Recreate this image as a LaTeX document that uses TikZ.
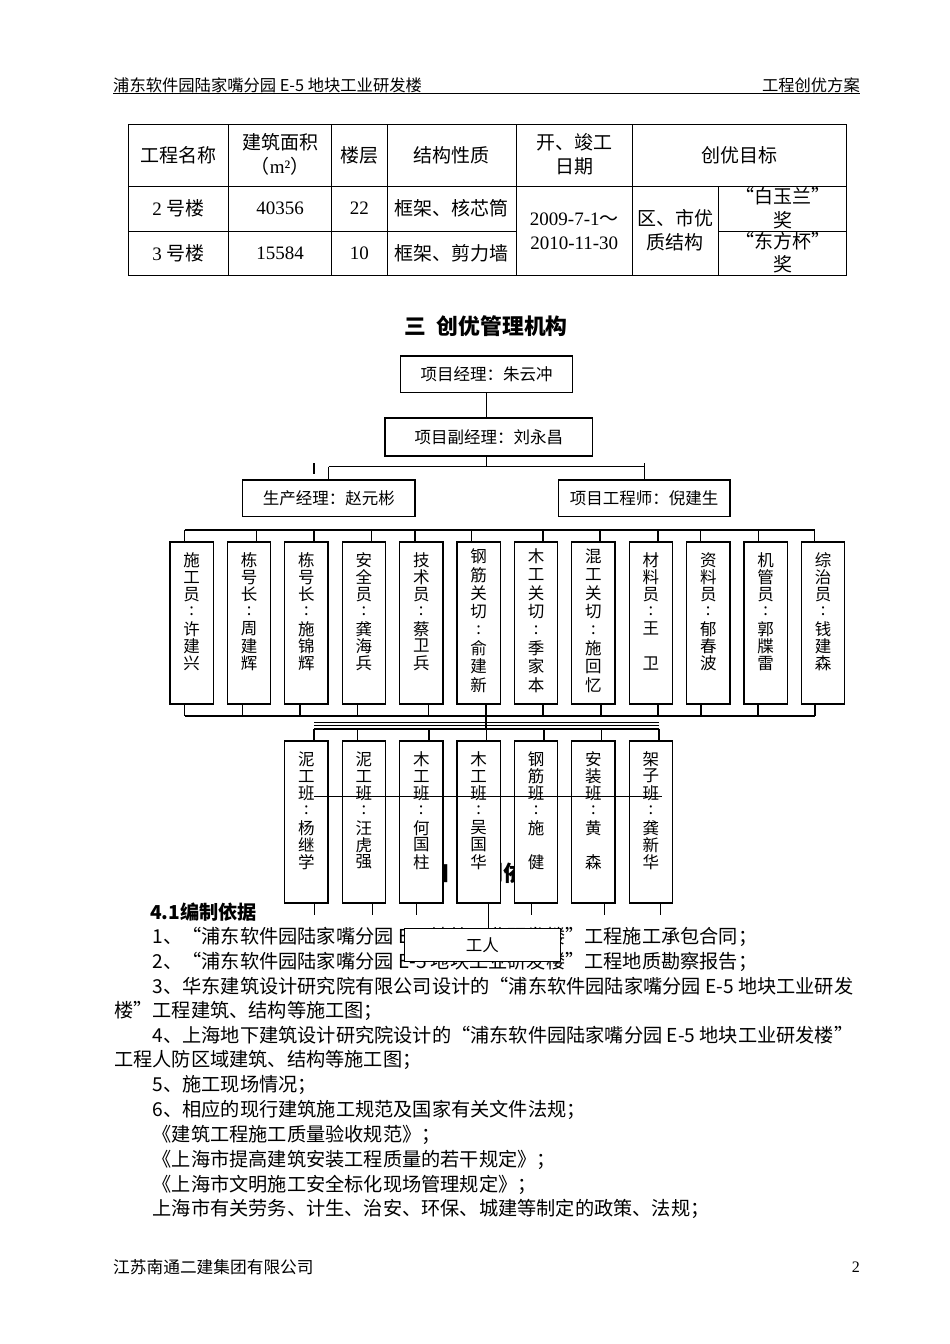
\documentclass[tikz,border=0pt]{standalone}
\usepackage{fontspec}
\setmainfont{Noto Sans CJK SC}
\newfontfamily\tm{Liberation Serif}
\tikzset{
  ln/.style={line width=1.2pt},
  tbl/.style={line width=1pt},
  obox/.style={draw, line width=1.3pt, fill=white, inner sep=0pt, font=\fontsize{16.5}{17}\selectfont},
  vbox/.style={draw, line width=1.3pt, fill=white, minimum width=43.3pt, minimum height=162pt, inner sep=0pt},
  vch/.style={inner sep=0pt, font=\fontsize{16.5}{17}\selectfont},
  tb/.style={inner sep=0pt, font=\fontsize{19}{20}\selectfont},
  body/.style={anchor=west, inner sep=0pt, font=\fontsize{19.2}{20}\selectfont},
  hdr/.style={inner sep=0pt, font=\fontsize{16.3}{17}\selectfont},
  ttl/.style={inner sep=0pt, font=\fontsize{21.8}{23}\selectfont\bfseries},
}
\newcommand\vcol[5]{\foreach \c [count=\k] in {#5} {\node[vch] (#1c\k) at (#2,{#3+(\k-1)*#4}) {\c};}}
\begin{document}
\begin{tikzpicture}[x=1pt,y=-1pt]
\fill[white] (0,0) rectangle (950,1344);
\useasboundingbox (0,0) rectangle (950,1344);

% header
\node[hdr, anchor=west] (hl) at (113,85) {浦东软件园陆家嘴分园 E-5 地块工业研发楼};
\node[hdr, anchor=east] (hr) at (860,85) {工程创优方案};
\draw[line width=1.8pt] (113,93.5) -- (860,93.5);

% table
\draw[tbl] (128.5,124) rectangle (846.5,275);
\draw[tbl] (128.5,186) -- (846.5,186);
\draw[tbl] (128.5,231) -- (516.5,231);
\draw[tbl] (718.5,231) -- (846.5,231);
\foreach \x in {228.5,331.5,387,516.5,632} \draw[tbl] (\x,124) -- (\x,275);
\draw[tbl] (718.5,186) -- (718.5,275);

\node[tb] (h1) at (178.5,155) {工程名称};
\node[tb] (h2a) at (280,142) {建筑面积};
\node[tb] (h2b) at (280,166) {（{\tm m²}）};
\node[tb] (h3) at (359.25,155) {楼层};
\node[tb] (h4) at (451.75,155) {结构性质};
\node[tb] (h5a) at (574.25,142) {开、竣工};
\node[tb] (h5b) at (574.25,166) {日期};
\node[tb] (h6) at (739.25,155) {创优目标};

\node[tb] (r1a) at (178.5,208) {{\tm 2}\hspace{5pt}号楼};
\node[tb] (r1b) at (280,208) {\tm 40356};
\node[tb] (r1c) at (359.25,208) {\tm 22};
\node[tb] (r1d) at (451.75,208) {框架、核芯筒};
\node[tb] (r2a) at (178.5,253) {{\tm 3}\hspace{5pt}号楼};
\node[tb] (r2b) at (280,253) {\tm 15584};
\node[tb] (r2c) at (359.25,253) {\tm 10};
\node[tb] (r2d) at (451.75,253) {框架、剪力墙};
\node[tb] (d1) at (574.25,219) {{\tm 2009-7-1}～};
\node[tb] (d2) at (574.25,243) {\tm 2010-11-30};
\node[tb] (q1) at (675.25,218) {区、市优};
\node[tb] (q2) at (675.25,242) {质结构};
\begin{scope}
\clip (718.5,186) rectangle (846.5,231);
\node[tb] (g1) at (782.5,196) {“白玉兰”};
\node[tb] (g2) at (782.5,220) {奖};
\end{scope}
\begin{scope}
\clip (718.5,231) rectangle (846.5,275);
\node[tb] (g3) at (782.5,241) {“东方杯”};
\node[tb] (g4) at (782.5,264) {奖};
\end{scope}

% title
\node[ttl] (title) at (486,325.7) {三\hspace{11pt}创优管理机构};

% top of org chart
\node[obox, minimum width=172pt, minimum height=36.7pt] (pm) at (486.7,374.3) {项目经理：朱云冲};
\node[obox, minimum width=207.7pt, minimum height=38pt] (dpm) at (488.8,437) {项目副经理：刘永昌};
\node[obox, minimum width=172.3pt, minimum height=36.7pt] (prod) at (328.8,498.3) {生产经理：赵元彬};
\node[obox, minimum width=171.7pt, minimum height=36.7pt] (eng) at (644.2,498.3) {项目工程师：倪建生};
\draw[ln] (pm.south) -- (pm.south |- dpm.north);
\draw[ln] (dpm.south -| pm.south) -- (486.7,466.7);
\draw[ln] (328.7,466.7) -- (644.3,466.7);
\draw[ln] (328.7,466.7) -- (prod.north -| 328.7,0);
\draw[ln] (644.3,463) -- (eng.north -| 644.3,0);
\draw[ln] (314,463.3) -- (314,474);

% heading hidden behind lower boxes
\node[ttl] (h4sec) at (487,873) {四\hspace{11pt}编制依据};

% upper row boxes
\foreach \n in {1,...,12} \node[vbox] (u\n) at ({170+57.4*(\n-1)+21.65},623) {};
\vcol{u1}{191.65}{560}{17.2}{施,工,员,:,许,建,兴}
\vcol{u2}{249.05}{560}{17.2}{栋,号,长,:,周,建,辉}
\vcol{u3}{306.45}{560}{17.2}{栋,号,长,:,施,锦,辉}
\vcol{u4}{363.85}{560}{17.2}{安,全,员,:,龚,海,兵}
\vcol{u5}{421.25}{560}{17.2}{技,术,员,:,蔡,卫,兵}
\vcol{u6}{478.65}{556.7}{18.3}{钢,筋,关,切,:,俞,建,新}
\vcol{u7}{536.05}{556.7}{18.3}{木,工,关,切,:,季,家,本}
\vcol{u8}{593.45}{556.7}{18.3}{混,工,关,切,:,施,回,忆}
\vcol{u9}{650.85}{560}{17.2}{材,料,员,:,王,{},卫}
\vcol{u10}{708.25}{560}{17.2}{资,料,员,:,郁,春,波}
\vcol{u11}{765.65}{560}{17.2}{机,管,员,:,郭,牒,雷}
\vcol{u12}{823.05}{560}{17.2}{综,治,员,:,钱,建,森}

% top bus
\draw[ln] (184.5,530) -- (814.8,530);
\foreach \n/\x in {1/184.5,2/256.7,3/314,4/371.5,5/415,6/471.5,7/543,8/600,9/658,10/700.3,11/758.2,12/814.8}
  \draw[ln] (u\n.north -| \x,0) -- (\x,530);
% bottom bus
\draw[ln] (184.5,716) -- (815,716);
\foreach \n/\x in {1/184.5,2/242.3,3/300,4/357.3,5/428.3,6/486,7/543,8/601,9/658,10/701,11/758,12/815}
  \draw[ln] (u\n.south -| \x,0) -- (\x,716);
\draw[ln] (u6.south -| 486,0) -- (486,729);
\draw[line width=1pt] (314,722.3) -- (659,722.3);
\draw[line width=1pt] (314,725) -- (659,725);
\draw[ln] (314,729) -- (659,729);

% lower row boxes
\foreach \n in {1,...,7} \node[vbox] (l\n) at ({170+57.4*(\n+1)+21.65},822) {};
\vcol{l1}{306.45}{759}{17.2}{泥,工,班,:,杨,继,学}
\vcol{l2}{363.85}{759}{17.2}{泥,工,班,:,汪,虎,强}
\vcol{l3}{421.25}{759}{17.2}{木,工,班,:,何,国,柱}
\vcol{l4}{478.65}{759}{17.2}{木,工,班,:,吴,国,华}
\vcol{l5}{536.05}{759}{17.2}{钢,筋,班,:,施,{},健}
\vcol{l6}{593.45}{759}{17.2}{安,装,班,:,黄,{},森}
\vcol{l7}{650.85}{759}{17.2}{架,子,班,:,龚,新,华}
\foreach \n/\x in {1/314,2/357.3,3/429,4/486.3,5/544,6/601.7,7/659}
  \draw[ln] (\x,729) -- (l\n.north -| \x,0);
\draw[ln] (314,796.5) -- (662,796.5);

% body text
\node[body, font=\fontsize{19.2}{20}\selectfont\bfseries] (s41) at (150,912) {4.1编制依据};
\node[body] (b1) at (152.5,937) {1、“浦东软件园陆家嘴分园 E-5 地块工业研发楼”工程施工承包合同；};
\node[body] (b2) at (152.5,962) {2、“浦东软件园陆家嘴分园 E-5 地块工业研发楼”工程地质勘察报告；};
\node[body] (b3) at (152.5,986.5) {3、华东建筑设计研究院有限公司设计的“浦东软件园陆家嘴分园 E-5 地块工业研发};
\node[body] (b3b) at (114,1011) {楼”工程建筑、结构等施工图；};
\node[body] (b4) at (152.5,1035.5) {4、上海地下建筑设计研究院设计的“浦东软件园陆家嘴分园 E-5 地块工业研发楼”};
\node[body] (b4b) at (114,1060) {工程人防区域建筑、结构等施工图；};
\node[body] (b5) at (152.5,1085) {5、施工现场情况；};
\node[body] (b6) at (152.5,1110) {6、相应的现行建筑施工规范及国家有关文件法规；};
\node[body] (b7) at (152.5,1135) {《建筑工程施工质量验收规范》；};
\node[body] (b8) at (152.5,1160) {《上海市提高建筑安装工程质量的若干规定》；};
\node[body] (b9) at (152.5,1184.5) {《上海市文明施工安全标化现场管理规定》；};
\node[body] (b10) at (152.5,1209) {上海市有关劳务、计生、治安、环保、城建等制定的政策、法规；};

% workers box and its connectors
\foreach \n/\x in {1/314.3,2/372.8,3/416.6,5/531.1,6/604.1,7/660.1}
  \draw[ln] (l\n.south -| \x,0) -- (\x,915);
\node[obox, minimum width=156pt, minimum height=33pt] (w) at (482.3,944.8) {工人};
\draw[ln] (l4.south -| 488.2,0) -- (w.north -| 488.2,0);

% footer
\node[hdr, anchor=west, font=\fontsize{16.7}{17}\selectfont] (fl) at (113,1267) {江苏南通二建集团有限公司};
\node[inner sep=0pt, anchor=east, font=\fontsize{16}{17}\selectfont\tm] (fr) at (860,1267) {2};
\end{tikzpicture}
\end{document}
